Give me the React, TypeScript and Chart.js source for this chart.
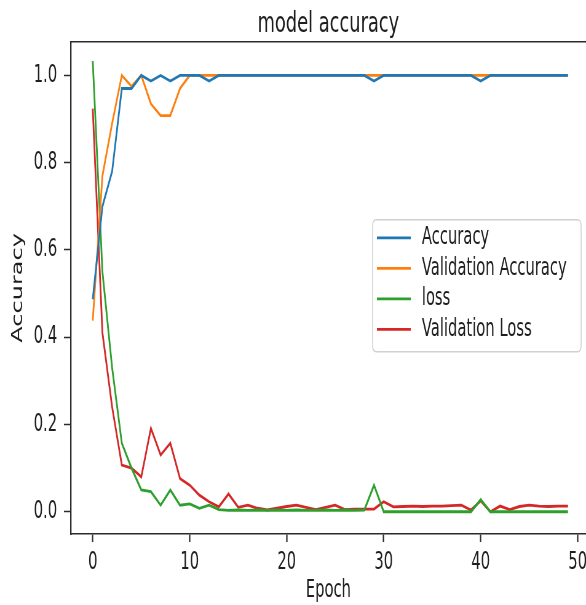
import React, { useEffect, useRef } from "react";
import { Chart, registerables } from "chart.js";

Chart.register(...registerables);

const epochs = [
  0, 1, 2, 3, 4, 5, 6, 7, 8, 9, 10, 11, 12, 13, 14, 15, 16, 17, 18, 19, 20, 21, 22, 23, 24,
  25, 26, 27, 28, 29, 30, 31, 32, 33, 34, 35, 36, 37, 38, 39, 40, 41, 42, 43, 44, 45, 46, 47, 48, 49,
];

const accuracy = [
  0.487, 0.70, 0.78, 0.97, 0.97, 1.0, 0.987, 1.0, 0.987, 1.0,
  1.0, 1.0, 0.987, 1.0, 1.0, 1.0, 1.0, 1.0, 1.0, 1.0,
  1.0, 1.0, 1.0, 1.0, 1.0, 1.0, 1.0, 1.0, 1.0, 0.987,
  1.0, 1.0, 1.0, 1.0, 1.0, 1.0, 1.0, 1.0, 1.0, 1.0,
  0.987, 1.0, 1.0, 1.0, 1.0, 1.0, 1.0, 1.0, 1.0, 1.0,
];

const valAccuracy = [
  0.438, 0.77, 0.89, 1.0, 0.975, 1.0, 0.935, 0.908, 0.908, 0.97,
  1.0, 1.0, 1.0, 1.0, 1.0, 1.0, 1.0, 1.0, 1.0, 1.0,
  1.0, 1.0, 1.0, 1.0, 1.0, 1.0, 1.0, 1.0, 1.0, 1.0,
  1.0, 1.0, 1.0, 1.0, 1.0, 1.0, 1.0, 1.0, 1.0, 1.0,
  1.0, 1.0, 1.0, 1.0, 1.0, 1.0, 1.0, 1.0, 1.0, 1.0,
];

const loss = [
  1.033, 0.55, 0.33, 0.157, 0.10, 0.05, 0.046, 0.015, 0.05, 0.015,
  0.018, 0.008, 0.015, 0.005, 0.003, 0.004, 0.003, 0.004, 0.003, 0.004,
  0.003, 0.004, 0.003, 0.003, 0.004, 0.003, 0.004, 0.003, 0.004, 0.061,
  0.0, 0.0, 0.0, 0.0, 0.0, 0.0, 0.0, 0.0, 0.0, 0.0,
  0.028, 0.0, 0.0, 0.0, 0.0, 0.0, 0.0, 0.0, 0.0, 0.0,
];

const valLoss = [
  0.924, 0.41, 0.24, 0.107, 0.10, 0.08, 0.191, 0.13, 0.157, 0.076,
  0.061, 0.038, 0.023, 0.011, 0.041, 0.01, 0.015, 0.008, 0.004, 0.008,
  0.012, 0.015, 0.01, 0.005, 0.01, 0.015, 0.005, 0.006, 0.006, 0.006,
  0.023, 0.011, 0.012, 0.013, 0.012, 0.013, 0.013, 0.014, 0.015, 0.004,
  0.025, 0.0, 0.013, 0.005, 0.012, 0.015, 0.013, 0.012, 0.013, 0.013,
];

const seriesLabels = ["Accuracy", "Validation Accuracy", "loss", "Validation Loss"];
const seriesColors = ["#1f77b4", "#ff7f0e", "#2ca02c", "#d62728"];
const xTickValues = [0, 10, 20, 30, 40, 50];
const yTickValues = [0, 0.2, 0.4, 0.6, 0.8, 1.0];

const chartTitle = "model accuracy";
const xTitle = "Epoch";
const yTitle = "Accuracy";

// The reference figure is horizontally compressed; the canvas is drawn wider
// and displayed at the page size to reproduce the narrow look of its text.
const VIEW_W = 586;
const VIEW_H = 605;
const SQUEEZE = 0.615;
const CANVAS_W = Math.round(VIEW_W / SQUEEZE);

const FONT = "'DejaVu Sans', 'Liberation Sans', sans-serif";
const AXIS = "#2b2b2b";
const TEXT = "#1e1e1e";

const framePlugin = {
  id: "frameTop",
  afterDraw(chart: any) {
    const { ctx, chartArea } = chart;
    ctx.save();
    ctx.strokeStyle = AXIS;
    ctx.lineWidth = 1.5;
    ctx.beginPath();
    ctx.moveTo(chartArea.left, chartArea.top);
    ctx.lineTo(chartArea.right, chartArea.top);
    ctx.stroke();
    ctx.restore();
  },
};

const legendPlugin = {
  id: "innerLegend",
  afterDraw(chart: any) {
    const { ctx, chartArea } = chart;
    const boxRight = chartArea.right - 8;
    const boxLeft = boxRight - 339;
    const boxTop = chartArea.top + 178;
    const boxH = 132;
    const rowStart = boxTop + 18;
    const rowGap = 30.5;
    ctx.save();
    ctx.fillStyle = "rgba(255,255,255,0.85)";
    ctx.strokeStyle = "#d0d0d0";
    ctx.lineWidth = 1.5;
    const r = 6;
    ctx.beginPath();
    ctx.moveTo(boxLeft + r, boxTop);
    ctx.lineTo(boxRight - r, boxTop);
    ctx.quadraticCurveTo(boxRight, boxTop, boxRight, boxTop + r);
    ctx.lineTo(boxRight, boxTop + boxH - r);
    ctx.quadraticCurveTo(boxRight, boxTop + boxH, boxRight - r, boxTop + boxH);
    ctx.lineTo(boxLeft + r, boxTop + boxH);
    ctx.quadraticCurveTo(boxLeft, boxTop + boxH, boxLeft, boxTop + boxH - r);
    ctx.lineTo(boxLeft, boxTop + r);
    ctx.quadraticCurveTo(boxLeft, boxTop, boxLeft + r, boxTop);
    ctx.closePath();
    ctx.fill();
    ctx.stroke();
    chart.data.datasets.forEach((ds: any, i: number) => {
      const y = rowStart + i * rowGap;
      ctx.strokeStyle = ds.borderColor;
      ctx.lineWidth = 2.8;
      ctx.beginPath();
      ctx.moveTo(boxLeft + 7, y);
      ctx.lineTo(boxLeft + 62, y);
      ctx.stroke();
      ctx.fillStyle = TEXT;
      ctx.font = `24px ${FONT}`;
      ctx.textBaseline = "middle";
      ctx.textAlign = "left";
      ctx.fillText(ds.label, boxLeft + 80, y);
    });
    ctx.restore();
  },
};

export default function App() {
  const canvasRef = useRef<HTMLCanvasElement | null>(null);

  useEffect(() => {
    document.body.style.margin = "0";
    const canvas = canvasRef.current;
    if (!canvas) return;
    const series = [accuracy, valAccuracy, loss, valLoss];
    const chart = new Chart(canvas, {
      type: "line",
      data: {
        datasets: series.map((vals, i) => ({
          label: seriesLabels[i],
          data: epochs.map((e, j) => ({ x: e, y: vals[j] })),
          borderColor: seriesColors[i],
          backgroundColor: seriesColors[i],
          borderWidth: 2.8,
          pointRadius: 0,
          tension: 0,
          fill: false,
        })),
      },
      options: {
        animation: false,
        responsive: false,
        maintainAspectRatio: false,
        devicePixelRatio: 1,
        layout: { padding: { left: 0, right: 0, top: 0, bottom: 0 } },
        plugins: {
          legend: { display: false },
          tooltip: { enabled: false },
          title: {
            display: true,
            text: chartTitle,
            fullSize: false,
            color: TEXT,
            font: { family: FONT, size: 29, weight: "normal" },
            padding: { top: 7, bottom: 0 },
          },
        },
        scales: {
          x: {
            type: "linear",
            min: -2.27,
            max: 50.86,
            afterBuildTicks: (scale: any) => {
              scale.ticks = xTickValues.map((v) => ({ value: v }));
            },
            afterFit: (scale: any) => {
              scale.height = 71;
              scale.paddingLeft = 0;
              scale.paddingRight = 0;
            },
            ticks: {
              color: TEXT,
              font: { family: FONT, size: 24 },
              padding: 6,
              maxRotation: 0,
              autoSkip: false,
              callback: (v: any) => String(v),
            },
            grid: {
              drawOnChartArea: false,
              drawTicks: true,
              tickLength: 8,
              tickWidth: 2.2,
              tickColor: AXIS,
            },
            border: { display: true, color: AXIS, width: 1.5 },
            title: {
              display: true,
              text: xTitle,
              color: TEXT,
              font: { family: FONT, size: 24 },
              padding: 0,
            },
          },
          y: {
            type: "linear",
            min: -0.051,
            max: 1.077,
            afterBuildTicks: (scale: any) => {
              scale.ticks = yTickValues.map((v) => ({ value: v }));
            },
            afterFit: (scale: any) => {
              scale.width = 115;
            },
            ticks: {
              color: TEXT,
              font: { family: FONT, size: 24 },
              padding: 11,
              callback: (v: any) => Number(v).toFixed(1),
            },
            grid: {
              drawOnChartArea: false,
              drawTicks: true,
              tickLength: 11,
              tickWidth: 1.5,
              tickColor: AXIS,
            },
            border: { display: true, color: AXIS, width: 2.3 },
            title: {
              display: true,
              text: yTitle,
              color: TEXT,
              font: { family: FONT, size: 24 },
              padding: { top: 15, bottom: 0 },
            },
          },
        },
      },
      plugins: [framePlugin, legendPlugin],
    });
    return () => chart.destroy();
  }, []);

  return (
    <div style={{ width: VIEW_W, height: VIEW_H }}>
      <canvas
        ref={canvasRef}
        width={CANVAS_W}
        height={VIEW_H}
        style={{ display: "block", width: `${VIEW_W}px`, height: `${VIEW_H}px` }}
      />
    </div>
  );
}
